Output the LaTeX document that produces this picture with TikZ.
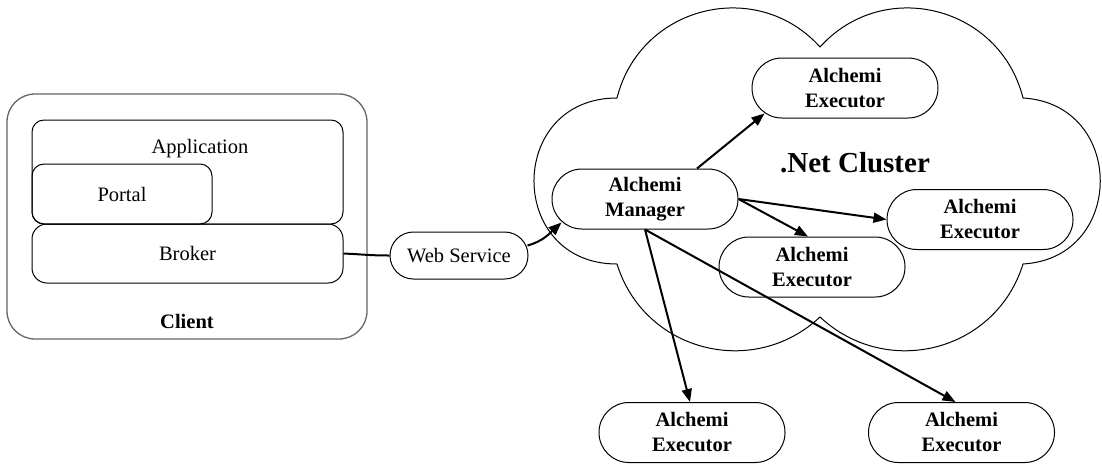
\documentclass[tikz,border=0pt]{standalone}
\usepackage{fontspec}
\setmainfont{Liberation Serif}
\usetikzlibrary{arrows.meta,calc}
\begin{document}
\begin{tikzpicture}[x=1pt,y=-1pt,
  box/.style={draw,line width=1pt,rounded corners=#1,inner sep=0pt},
  stad/.style={draw,line width=1pt,rounded corners=29.9pt,minimum width=186pt,minimum height=60pt,
    align=center,font=\fontsize{20.5}{25}\selectfont\bfseries,inner sep=0pt},
  conn/.style={line width=2pt,-{Triangle[length=13pt,width=10pt]}},
  lbl/.style={font=\fontsize{20.5}{25}\selectfont,inner sep=0pt},
  blbl/.style={font=\fontsize{20.5}{25}\selectfont\bfseries,inner sep=0pt}]
\useasboundingbox (0,0) rectangle (1102,464);

% Client side
\node[box=28pt,draw=black!60,line width=1.3pt,minimum width=360pt,minimum height=245pt] (client) at (187,216.5) {};
\node[box=12pt,minimum width=311pt,minimum height=104pt] (app) at (187.5,172) {};
\node[lbl] (applbl) at (200,149) {Application};
\node[box=12pt,minimum width=180pt,minimum height=60pt,lbl] (portal) at (122,194) {Portal};
\node[box=15pt,minimum width=311pt,minimum height=59pt,lbl] (broker) at (187.5,253.5) {Broker};
\node[blbl] (clientlbl) at (187,321) {Client};

% Web service
\node[draw,line width=1pt,rounded corners=23.4pt,minimum width=138pt,minimum height=47pt,lbl] (ws) at (459,255.5) {Web Service};

% Cloud
\draw[line width=1pt] (617,98)
  .. controls (640,6) and (756.5,-23.4) .. (820,47)
  .. controls (883.5,-23.4) and (1000,6) .. (1023,98)
  .. controls (1126,104) and (1126,258) .. (1023,264)
  .. controls (995.9,351.5) and (886.9,379.5) .. (820,317)
  .. controls (753.1,379.5) and (644.1,351.5) .. (617,264)
  .. controls (506.3,264) and (506.3,98) .. (617,98) -- cycle;
\node[font=\fontsize{29}{30}\selectfont\bfseries,inner sep=0pt] (title) at (855,163) {.Net Cluster};

% Alchemi nodes
\node[stad] (mgr) at (645,199) {Alchemi\\Manager};
\node[stad] (top) at (845,88) {Alchemi\\Executor};
\node[stad] (re) at (980,219.5) {Alchemi\\Executor};
\node[stad] (me) at (812,267) {Alchemi\\Executor};
\node[stad] (bl) at (692,432.5) {Alchemi\\Executor};
\node[stad] (br) at (961.5,432.5) {Alchemi\\Executor};

% Connectors
\draw[line width=2pt] (broker.east) .. controls +(22,1) and +(-20,0) .. (ws.west);
\draw[conn] ($(ws.east)+(-1,-10)$) .. controls +(15,-4) and +(-12,11) .. ($(mgr.south west)+(10,-7)$);
\draw[conn] ($(mgr.north)+(52,0)$) -- ($(top.south west)+(13,-5)$);
\draw[conn] (mgr.east) -- (re.west);
\draw[conn] (mgr.east) -- ($(me.north)+(-4,0)$);
\draw[conn] (mgr.south) -- ($(bl.north)+(-2,0)$);
\draw[conn] (mgr.south) -- ($(br.north)+(-6,0)$);
\end{tikzpicture}
\end{document}
